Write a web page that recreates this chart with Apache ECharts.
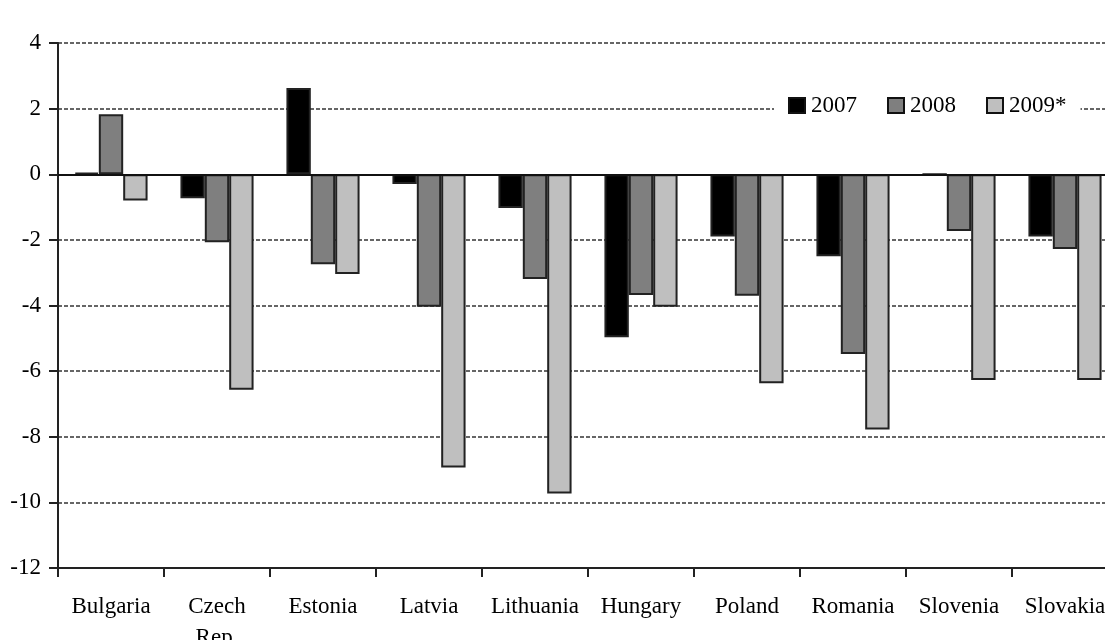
<!DOCTYPE html>
<html>
<head>
<meta charset="utf-8">
<script src="https://cdn.jsdelivr.net/npm/echarts@6/dist/echarts.min.js"></script>
<style>
html,body{margin:0;padding:0;background:#fff;}
#chart{width:1105px;height:640px;}
</style>
</head>
<body>
<div id="chart"></div>
<script>
const categories = ['Bulgaria','Czech\nRep.','Estonia','Latvia','Lithuania','Hungary','Poland','Romania','Slovenia','Slovakia'];
const seriesNames = ['2007','2008','2009*'];
const values2007 = [0.05, -0.73, 2.63, -0.3, -1.03, -4.97, -1.9, -2.5, 0, -1.9];
const values2008 = [1.83, -2.07, -2.74, -4.04, -3.19, -3.68, -3.7, -5.48, -1.73, -2.28];
const values2009 = [-0.8, -6.57, -3.04, -8.94, -9.73, -4.04, -6.37, -7.78, -6.27, -6.27];
const yTicks = {min: -12, max: 4, interval: 2};
const colors = ['#000000', '#7f7f7f', '#bfbfbf'];

const font = 'Liberation Serif';
const chart = echarts.init(document.getElementById('chart'), null, {renderer: 'canvas'});

function bar(name, data, color, withZero) {
  const s = {
    name: name,
    type: 'bar',
    data: data,
    barGap: '0%',
    barCategoryGap: '31%',
    itemStyle: {color: color, borderColor: '#222', borderWidth: 2},
    emphasis: {disabled: true},
    animation: false
  };
  if (withZero) {
    s.markLine = {
      silent: true,
      symbol: 'none',
      label: {show: false},
      lineStyle: {color: '#111', width: 2, type: 'solid'},
      data: [{yAxis: 0}],
      animation: false
    };
  }
  return s;
}

chart.setOption({
  animation: false,
  backgroundColor: '#fff',
  grid: {left: 58, top: 43, width: 1060, height: 525, containLabel: false, outerBoundsMode: 'none'},
  legend: {
    data: seriesNames,
    icon: 'rect',
    left: 774,
    top: 90,
    orient: 'horizontal',
    backgroundColor: '#fff',
    padding: [4, 14, 4, 14],
    itemWidth: 16,
    itemHeight: 15,
    itemGap: 30,
    itemStyle: {borderColor: '#111', borderWidth: 2},
    textStyle: {fontFamily: font, fontSize: 23, color: '#000', padding: [0, 0, 0, 1]},
    selectedMode: false
  },
  xAxis: {
    type: 'category',
    data: categories,
    axisLine: {show: true, onZero: false, lineStyle: {color: '#222', width: 2}},
    axisTick: {show: true, length: 9, inside: false, alignWithLabel: false, lineStyle: {color: '#222', width: 2}},
    axisLabel: {fontFamily: font, fontSize: 23, color: '#000', margin: 23, lineHeight: 31, interval: 0},
    splitLine: {show: false}
  },
  yAxis: {
    type: 'value',
    min: yTicks.min,
    max: yTicks.max,
    interval: yTicks.interval,
    axisLine: {show: true, lineStyle: {color: '#222', width: 2}},
    axisTick: {show: true, length: 9, lineStyle: {color: '#222', width: 2}},
    axisLabel: {fontFamily: font, fontSize: 23, color: '#000', margin: 17},
    splitLine: {show: true, lineStyle: {color: '#666', width: 2, type: [4, 2]}}
  },
  series: [
    bar(seriesNames[0], values2007, colors[0], true),
    bar(seriesNames[1], values2008, colors[1], false),
    bar(seriesNames[2], values2009, colors[2], false)
  ]
});
</script>
</body>
</html>
